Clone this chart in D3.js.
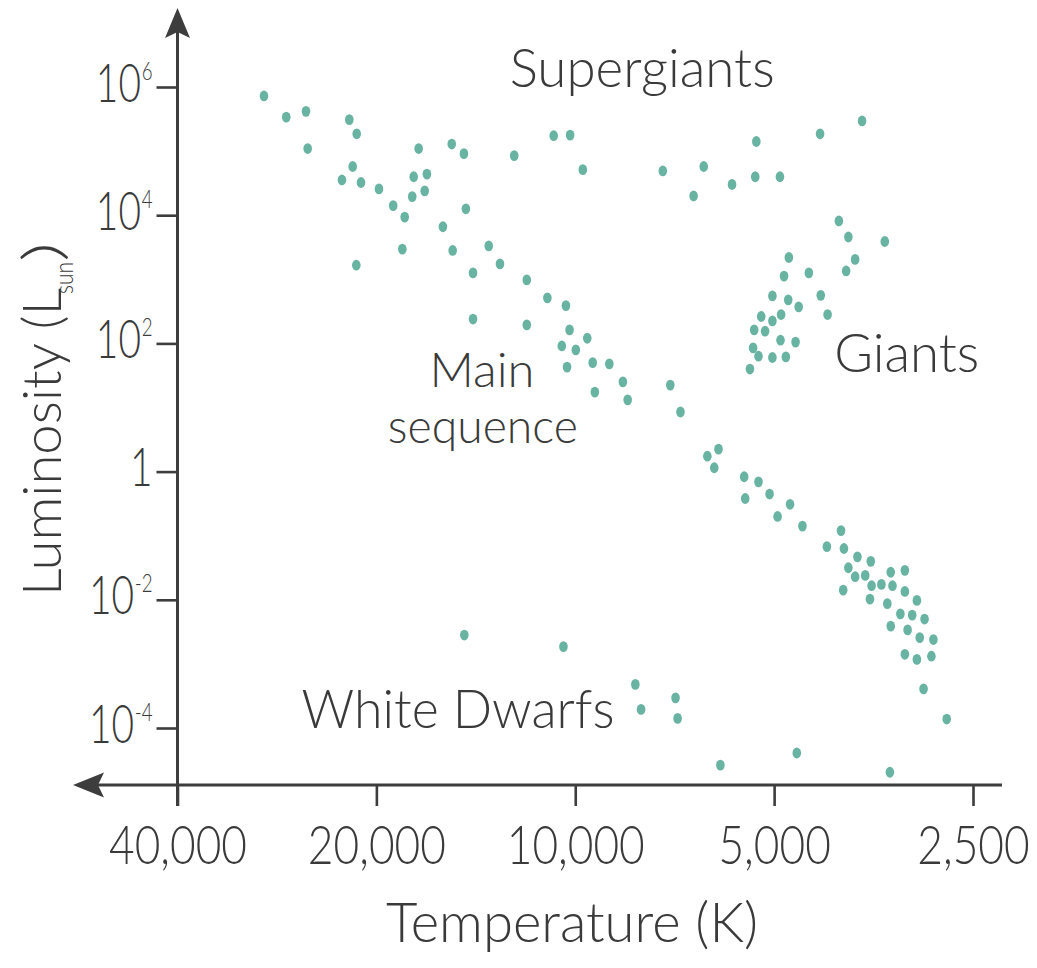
<!DOCTYPE html>
<html>
<head>
<meta charset="utf-8">
<script src="https://cdn.jsdelivr.net/npm/d3@7"></script>
<style>
  html, body { margin: 0; padding: 0; background: #fff; }
  svg { display: block; }
  text { font-family: "Lato", "Open Sans", sans-serif; font-weight: 300; fill: #3a3a3a; }
</style>
</head>
<body>
<div id="chart"></div>
<script>
// Hertzsprung–Russell diagram: surface temperature (K) vs. luminosity (L_sun).
// Each star is [temperature in K, log10 luminosity in solar units].
const mainSequence = [
  [29590,5.86],[27380,5.53],[25560,5.62],[25410,5.04],[21980,5.49],[21420,5.27],[17260,5.04],
  [15380,5.11],[14740,4.96],[12370,4.93],[21720,4.76],[22550,4.55],[21100,4.51],[19820,4.41],
  [17560,4.60],[16770,4.64],[17650,4.29],[16900,4.38],[18860,4.15],[18120,3.97],[14640,4.10],
  [15860,3.82],[18270,3.47],[15330,3.45],[13520,3.52],[13000,3.24],[21450,3.22],[14280,3.10],
  [11840,2.99],[11020,2.71],[10330,2.59],[14280,2.38],[11840,2.29],[10200,2.21],
  [9590,2.08],[10480,1.96],[9980,1.90],[9410,1.70],[8880,1.68],[10290,1.63],[8470,1.40],
  [9340,1.24],[8330,1.12],[7180,1.35],[6930,0.93],
  [6310,0.24],[6070,0.35],[6160,0.06],[5550,-0.08],[5280,-0.16],[5530,-0.42],[5080,-0.35],
  [4730,-0.51],[4940,-0.70],[4530,-0.85],[3960,-0.92],[4160,-1.17],[3920,-1.20],[3740,-1.33],
  [3570,-1.40],[3860,-1.50],[3770,-1.64],[3640,-1.62],[3330,-1.57],[3170,-1.54],[3560,-1.78],
  [3440,-1.76],[3310,-1.78],[3930,-1.85],[3170,-1.87],[3580,-1.99],[3370,-2.06],[3040,-2.01],
  [3220,-2.22],[3090,-2.24],[2960,-2.30],[3330,-2.41],[3140,-2.47],[3010,-2.59],[2870,-2.62],
  [3170,-2.85],[3040,-2.93],[2890,-2.88],[2970,-3.39],[2740,-3.86]
];
const supergiants = [
  [10780,5.24],[10180,5.25],[9740,4.71],[7370,4.69],[6390,4.76],[5790,4.48],
  [6620,4.30],[5320,5.15],[5340,4.60],[4900,4.60],[4260,5.27],[3680,5.47]
];
const giants = [
  [3990,3.91],[3860,3.66],[3400,3.59],[3770,3.31],[3890,3.13],[4750,3.34],[4430,3.10],
  [4830,3.05],[5030,2.74],[4760,2.68],[4590,2.57],[4250,2.75],[4150,2.45],[5230,2.42],
  [4880,2.45],[5030,2.35],[5360,2.21],[5160,2.19],[4890,2.05],[4640,2.02],[5380,1.93],
  [5280,1.80],[5030,1.78],[4800,1.79],[5440,1.60]
];
const whiteDwarfs = [
  [14720,-2.55],[10420,-2.73],[8110,-3.32],[7950,-3.71],[7050,-3.53],[7000,-3.85],
  [6030,-4.58],[4620,-4.39],[3340,-4.69]
];

const tempTicks = [40000, 20000, 10000, 5000, 2500];
const lumTicks = [1e6, 1e4, 1e2, 1, 1e-2, 1e-4];

// Region names, anchored (centre / baseline) at a temperature and luminosity
const regionLabels = [
  { text: "Supergiants", t: 7920, lum: 1.0e6 },
  { text: "Giants", t: 3150, lum: 36 },
  { text: "Main", t: 13840, lum: 21 },
  { text: "sequence", t: 13800, lum: 2.8 },
  { text: "White Dwarfs", t: 15050, lum: 1.0e-4 }
];

const W = 1037, H = 968;
const svg = d3.select("#chart").append("svg").attr("width", W).attr("height", H);

const x = d3.scaleLog().base(2).domain([40000, 2500]).range([177.5, 973]);
const y = d3.scaleLog().domain([1e-4, 1e6]).range([728, 87]);

const axisColor = "#3d3d3d";
const xAxisY = 785;

// Stars
const stars = [].concat(mainSequence, supergiants, giants, whiteDwarfs);
svg.append("g").selectAll("ellipse").data(stars).join("ellipse")
  .attr("cx", d => x(d[0]))
  .attr("cy", d => y(Math.pow(10, d[1])))
  .attr("rx", 4.3).attr("ry", 5.4)
  .attr("fill", "#69b3a2");

// X axis (temperature decreasing to the right)
const xAxis = svg.append("g").attr("transform", `translate(0,${xAxisY})`)
  .call(d3.axisBottom(x).tickValues(tempTicks).tickSize(21).tickPadding(20).tickFormat(d3.format(",")));
xAxis.select(".domain").remove();
xAxis.selectAll(".tick line").attr("stroke", axisColor).attr("stroke-width", 2.6);
xAxis.selectAll(".tick text")
  .attr("font-size", 54).attr("fill", "#3a3a3a").attr("dy", "0.71em")
  .each(function () {
    const t = d3.select(this);
    const yy = +t.attr("y");
    t.attr("y", null).attr("transform", `translate(0,${yy}) scale(0.82,1)`);
  });

// Y axis (luminosity, log scale)
const yAxis = svg.append("g").attr("transform", `translate(${x(40000)},0)`)
  .call(d3.axisLeft(y).tickValues(lumTicks).tickSize(21).tickPadding(5).tickFormat(() => ""));
yAxis.select(".domain").remove();
yAxis.selectAll(".tick line").attr("stroke", axisColor).attr("stroke-width", 2.6);
yAxis.selectAll(".tick text").each(function (d) {
  const t = d3.select(this);
  const exp = Math.round(Math.log10(d));
  t.attr("x", null).attr("dy", "0.26em").attr("font-size", 54)
    .attr("fill", "#3a3a3a")
    .attr("transform", "translate(-25,0) scale(0.72,1)");
  if (exp === 0) {
    t.text("1");
  } else {
    t.text("10");
    t.append("tspan").attr("font-size", 26).attr("dy", -22).attr("dx", 1)
      .text(exp < 0 ? "-" + Math.abs(exp) : String(exp));
  }
});

// Axis lines with arrowheads
const x0 = x(40000);
svg.append("line").attr("x1", 92).attr("x2", 1002).attr("y1", xAxisY).attr("y2", xAxisY)
  .attr("stroke", axisColor).attr("stroke-width", 3);
svg.append("line").attr("x1", x0).attr("x2", x0).attr("y1", 30).attr("y2", xAxisY + 21)
  .attr("stroke", axisColor).attr("stroke-width", 3);
svg.append("path")
  .attr("d", `M${x0},8 L${x0 + 12.5},38 L${x0},32 L${x0 - 12.5},38 Z`)
  .attr("fill", axisColor);
svg.append("path")
  .attr("d", `M73,${xAxisY} L104,${xAxisY - 12.5} L98,${xAxisY} L104,${xAxisY + 12.5} Z`)
  .attr("fill", axisColor);

// Axis titles
svg.append("text").attr("x", 572).attr("y", 942).attr("text-anchor", "middle")
  .attr("font-size", 56).attr("textLength", 372).attr("lengthAdjust", "spacingAndGlyphs")
  .text("Temperature (K)");

const yTitle = svg.append("g").attr("transform", "translate(61,596) rotate(-90)");
yTitle.append("text").attr("x", 0).attr("y", 0).attr("font-size", 54)
  .attr("textLength", 308).attr("lengthAdjust", "spacingAndGlyphs")
  .text("Luminosity (L");
yTitle.append("text").attr("x", 302).attr("y", 12).attr("font-size", 26)
  .attr("textLength", 32).attr("lengthAdjust", "spacingAndGlyphs")
  .text("sun");
yTitle.append("text").attr("x", 334).attr("y", 0).attr("font-size", 54)
  .attr("textLength", 20).attr("lengthAdjust", "spacingAndGlyphs")
  .text(")");

// Region annotations
const labelWidths = { "Supergiants": 265, "Giants": 145, "Main": 105, "sequence": 190, "White Dwarfs": 313 };
const labelSizes = { "Main": 47, "sequence": 47 };
svg.append("g").selectAll("text").data(regionLabels).join("text")
  .attr("x", d => x(d.t)).attr("y", d => y(d.lum))
  .attr("text-anchor", "middle").attr("font-size", d => labelSizes[d.text] || 54)
  .attr("textLength", d => labelWidths[d.text]).attr("lengthAdjust", "spacingAndGlyphs")
  .text(d => d.text);
</script>
</body>
</html>
